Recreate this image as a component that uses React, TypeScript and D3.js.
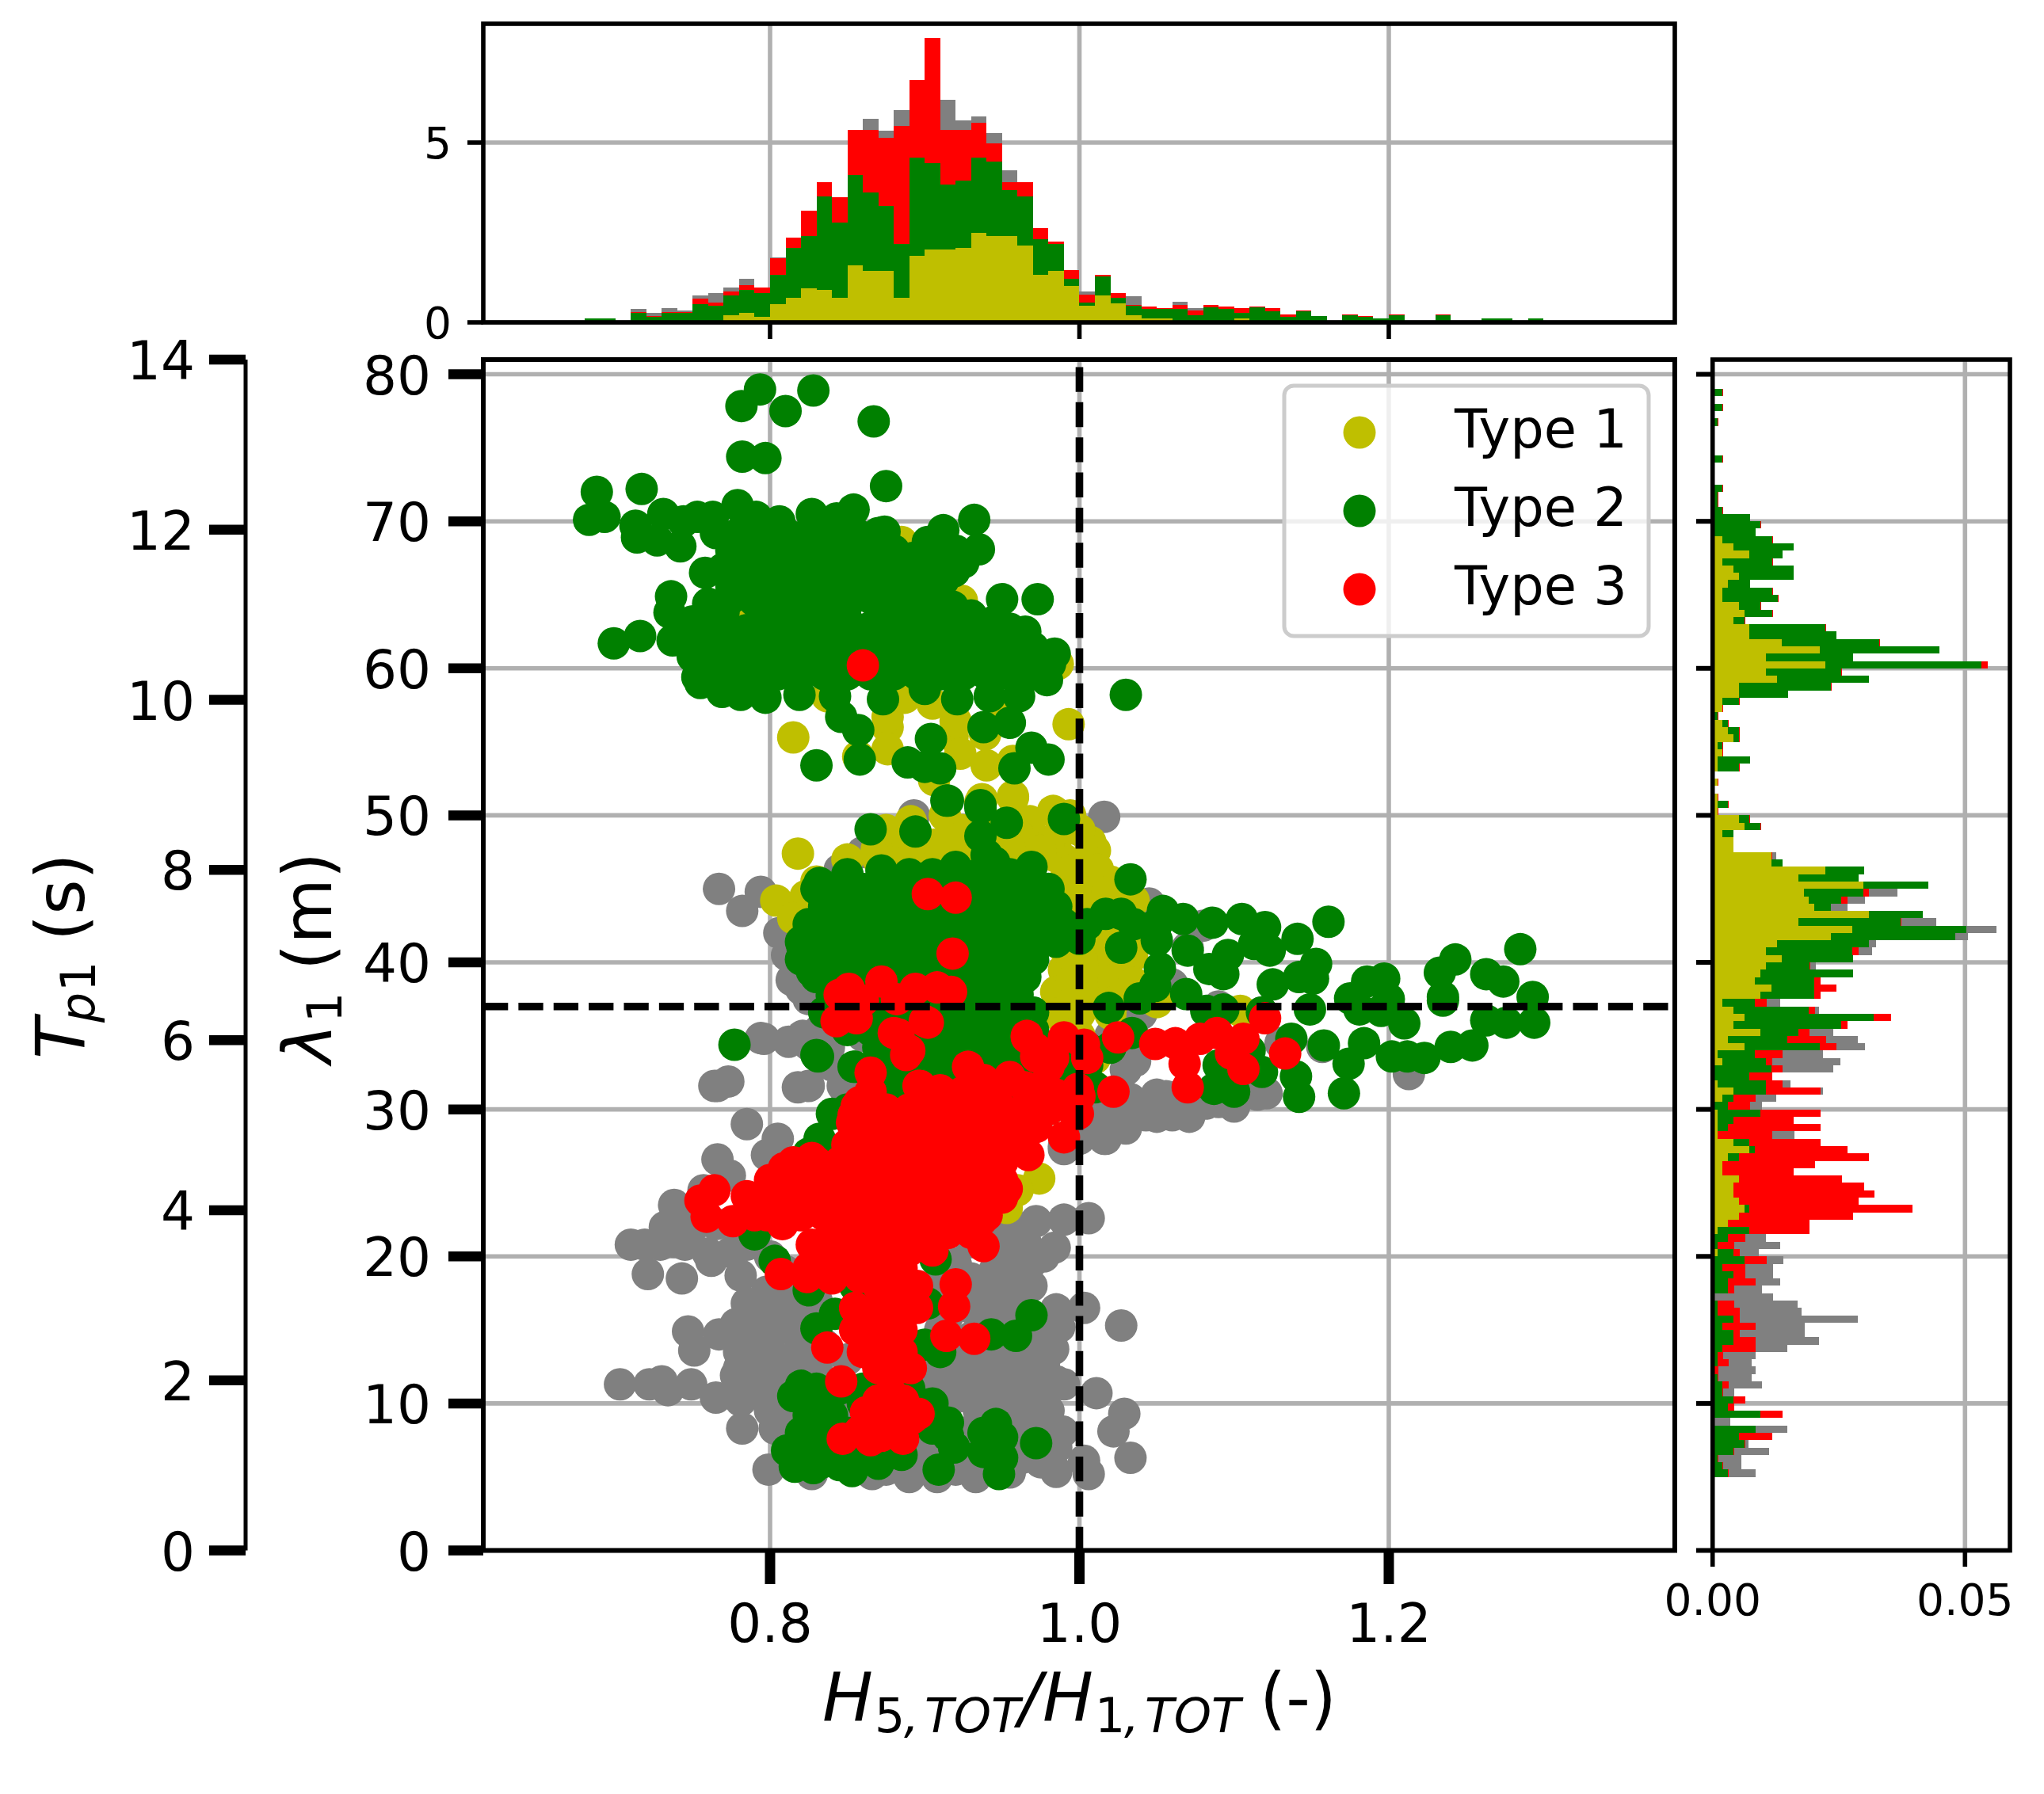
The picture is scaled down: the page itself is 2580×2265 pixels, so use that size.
import React from "react";
import * as d3 from "d3";

type P = [number, number];

// Top histogram (cumulative stack tops, bin width 0.01, starting at 0.68)
const topBinStarts: number[] = d3.range(62).map((i) => 0.68 + i * 0.01);
const topType1 = [
  0,0,0,0,0,0,0,0,0,.19,
  .26,.15,.51,.68,.94,.90,.68,1.58,1.43,1.43,
  .68,1.85,2.02,2.02,2.07,2.49,2.40,2.40,2.13,1.32,
  1.43,1.01,.46,.74,.52,.19,.10,.10,0,0,
  0,0,.10,0,0,0,0,0,0,0,
  0,0,0,0,0,0,0,0,0,0,
  0,0,
];
const topType2 = [
  .10,.10,0,.26,.15,.26,.26,.51,.46,.74,
  .90,.82,1.32,2.06,2.40,3.50,2.77,4.10,3.61,3.24,
  2.18,4.58,4.43,3.83,3.94,4.58,4.47,3.68,3.50,2.32,
  2.18,1.21,.56,1.27,.68,.46,.38,.38,.38,.19,
  .41,.37,.26,.41,.30,.15,.30,.17,0,.19,
  .15,.10,.19,0,0,.19,0,0,.10,.10,
  0,.10,
];
const topType3 = [
  .12,.12,0,.28,.17,.28,.28,.65,.54,.85,
  1.03,.96,1.78,2.35,3.10,3.90,3.48,5.35,5.35,5.13,
  5.46,6.74,7.91,5.35,5.35,5.55,4.98,3.90,3.90,2.62,
  2.24,1.45,.76,1.32,.81,.48,.43,.39,.48,.32,
  .48,.43,.39,.43,.39,.21,.32,.18,0,.21,
  .17,.12,.21,0,0,.21,0,0,.12,.12,
  0,.12,
];
const topType0 = [
  .12,.12,0,.37,.26,.39,.32,.74,.81,.96,
  1.21,.96,1.80,2.35,3.10,3.90,3.48,5.35,5.66,5.33,
  5.90,6.74,7.91,6.19,5.62,5.73,5.26,4.23,3.90,2.62,
  2.24,1.45,.85,1.32,.81,.72,.43,.39,.57,.39,
  .48,.43,.39,.43,.39,.21,.32,.18,0,.21,
  .17,.12,.21,0,0,.21,0,0,.12,.12,
  0,.12,
];

// Right histogram (cumulative stack tops in units of 1e-4, bin height 0.5 m, from 78.5 down to 5)
const rightBinStarts: number[] = d3.range(148).map((i) => 78.5 - i * 0.5);
const rightType1 = [
  0,0,0,0,0,0,0,0,0,0,
  0,0,0,0,0,0,0,0,0,0,
  19,41,73,19,41,52,30,19,19,52,
  63,41,73,73,137,212,106,223,106,128,
  52,52,19,19,0,19,30,41,10,20,
  10,10,0,10,0,10,10,10,52,63,
  19,41,41,117,117,223,170,299,181,190,
  201,309,170,277,234,128,106,137,106,95,
  84,117,95,19,41,63,41,95,30,63,
  10,19,0,0,10,41,19,0,10,10,
  10,10,41,73,30,19,19,52,41,41,
  52,63,52,30,10,0,0,10,0,0,
  0,0,0,0,0,0,0,0,0,0,
  0,0,0,0,0,0,0,0,0,0,
  0,0,0,0,0,0,0,0,
];
const rightType2 = [
  20,0,20,0,10,0,0,0,0,20,
  0,0,0,20,10,10,20,74,95,85,
  118,160,138,118,160,160,74,118,129,95,
  118,64,224,245,330,449,278,532,255,309,
  235,149,53,20,10,31,53,53,20,20,
  74,53,0,10,0,10,31,10,73,95,
  41,41,41,117,138,300,289,427,299,255,
  235,416,373,502,480,309,277,278,192,278,
  201,201,201,84,190,319,255,170,148,212,
  84,106,117,73,106,106,41,30,95,41,
  30,10,73,84,52,19,19,52,41,41,
  52,73,52,30,73,30,10,41,63,19,
  41,30,30,0,10,10,41,19,41,41,
  19,10,10,4,10,19,19,41,30,95,
  0,85,52,63,41,10,19,30,
];
const rightType3 = [
  21,0,21,0,11,0,0,0,0,21,
  0,0,0,21,12,12,21,75,96,86,
  119,161,139,119,161,161,75,119,130,96,
  119,65,225,246,331,450,279,545,256,310,
  236,150,54,21,11,32,54,54,21,21,
  75,54,0,11,0,11,32,11,74,96,
  42,42,42,118,139,301,290,428,309,267,
  235,417,374,503,481,310,289,279,193,279,
  214,245,214,107,203,354,267,192,225,245,
  139,118,139,118,139,214,85,74,214,160,
  214,118,214,267,309,203,160,256,300,321,
  289,396,278,192,192,65,43,54,107,65,
  65,85,43,0,43,54,54,85,54,85,
  85,21,32,12,12,32,21,65,43,139,
  0,85,118,65,43,12,21,32,
];
const rightType0 = [
  21,0,21,0,11,0,0,0,0,21,
  0,0,0,21,12,12,21,75,96,86,
  119,161,139,119,161,161,75,119,130,96,
  119,65,225,246,331,450,279,545,256,310,
  236,150,54,21,11,32,54,54,21,21,
  75,54,0,11,0,11,32,11,74,96,
  42,42,42,126,139,301,290,428,366,302,
  267,417,443,562,506,324,316,279,204,279,
  214,245,214,134,211,354,267,239,288,302,
  219,253,239,118,154,219,126,98,214,160,
  214,162,214,267,309,203,160,256,300,321,
  289,396,278,192,192,106,134,92,140,120,
  120,134,98,120,168,176,288,183,183,211,
  148,85,77,85,77,98,43,65,43,139,
  35,148,118,71,112,57,57,85,
];

// Scatter points: [H5/H1, wavelength]
const scatterType0: P[] = [
  [.794,34.85],[.773,31.9],[.764,31.6],[.785,29],[.805,28],[.798,26.9],[.766,26.6],[.774,25.5],[.757,24.5],[.738,23.5],
  [.732,22],[.738,21],[.71,20.8],[.719,20.8],[.729,20.8],[.745,20.8],[.76,20.2],[.775,20.3],[.785,20.8],[.721,18.8],
  [.743,18.5],[.781,18.7],[.762,19.7],[.75,22],[.765,22.2],[.78,22],[.972,22.4],[.99,22.5],[1.006,22.6],[.954,22.5],
  [.977,20],[.984,20.6],[.969,19.6],[.96,18.8],[.969,18],[1.003,16.5],[1.027,15.3],[.985,16.4],[.987,15.2],[.983,13.7],
  [.747,14.9],[.751,13.6],[.767,14.7],[.778,15.4],[.785,16.8],[.798,17.6],[.81,17.4],[.78,13.5],[.78,12.4],[.703,11.3],
  [.722,11.3],[.734,10.9],[.73,11.5],[.749,11.3],[.765,10.4],[.781,10.2],[.778,11.9],[.801,11.9],[.809,10.2],[.782,8.3],
  [.803,8.3],[.799,5.5],[.827,5.2],[.866,5.2],[.89,5],[.908,5],[.933,5],[.963,6.3],[.985,5.35],[1.003,6.1],
  [1.006,5.2],[1.033,6.3],[1.022,8.1],[1.029,9.3],[1.011,10.7],[.99,11.3],[.974,8.9],[.989,8.1],[.956,9.2],[.953,11.2],
  [.93,11.4],[.961,12],[.977,12.6],[.98,14],[.8,14.5],[.8,16],[.79,14],[.815,15],[.815,13],[.83,12.5],
  [.83,17],[.85,13],[.9,12],[.915,12],[.93,13],[.945,12.5],[.96,13.5],[.97,15],[.95,16],[.94,18],
  [.95,20],[.93,21],[.91,21],[.92,17],[.94,15],[.92,19.5],[.96,17],[.905,18],[.83,20],[.8,20],
  [.81,19],[.84,10.5],[.85,9],[.87,6],[.89,7],[.91,7],[.935,9.5],[.925,6],[.95,5.8],[.945,10],
  [.915,10],[.82,7],[.83,8],[.96,10.5],[.972,11],[.8,12.8],[.815,11],
  [.795,15],[.8,13.6],[.81,16.5],[.82,14],[.825,12],[.82,16],[.835,14],[.835,16],[.79,16.2],[.79,12.6],
  [.905,11],[.92,11],[.935,11.8],[.95,11.4],[.965,11.2],[.975,11.8],[.985,11.5],[.9,13],[.915,13.2],[.93,14.5],
  [.945,14],[.96,15],[.975,14],[.98,15.5],[.94,13],[.97,12.8],[.955,17.5],[.93,16.5],[.945,17],[.93,18.5],
  [.945,19],[.955,21],[.94,21],[.965,21],[.915,16],[.91,19.5],[.91,15],[.905,14],
  [.79,11],[.8,10.5],[.8,9.5],[.815,8.5],[.815,9.8],[.83,6],[.845,6],[.86,6.5],[.875,5.5],[.885,5.8],
  [.895,6],[.92,5.5],[.94,5.5],[.955,5.3],[.925,8],[.94,7.5],[.955,8],[.965,8],[.975,6],[.965,9.5],
  [.98,9.5],[.985,7],[.88,8],[.9,8.5],[.91,9.5],[.925,10.5],[.935,10.8],[.945,9],
  [1.016,28],[.99,27.5],[1.043,29.6],[1.07,29.8],[1.082,30.4],[1.033,30.7],[1.056,30.9],[1.121,31.1],[1.03,32.7],[1.036,33.3],
  [1.213,32.4],[1.017,28],[.99,27.3],[1.041,29.7],[1.071,29.5],[1.085,31.2],[1.157,34.25],[1.016,49.9],[.86,47.5],[.893,50],
  [.845,46.3],[.82,38.2],[.832,35.4],[.825,31.6],[.847,31.6],[.821,35],[.767,45],[.794,44.8],[.782,43.5],[.806,42],
  [.811,40.5],[.814,38.8],[.825,37.5],[.796,34.8],[.812,34.6],[.825,34.4],[.838,34.2],[.818,31.5],[.766,31.6],[.86,35],
  [.84,33],[1.02,30.5],[1.01,29],[1.05,31],[1.1,31],[1.04,36.5],[1.045,44],[1.07,41],[1.08,42.5],[1.02,35],
  [1.06,38.5],[1.09,37],[1.118,36.6],[1.1,32],[1.13,34.5],[1.0,30],
  [1.05,29.5],[1.06,29.6],[1.02,29.4],[1.03,28.7],[1.09,30.5],[1.1,30.2],[1.115,31],[1.0,28],[1.015,28.8],[1.075,30.5],
];

const scatterType1: P[] = [
  [.768,64.1],[.78,64.6],[.756,62.5],[.885,68.6],[.917,67.5],[.924,64.6],[.892,65.8],[.913,63.7],[.986,60.3],[.993,56.2],
  [.815,55.3],[.876,56],[.876,54.5],[.857,54],[.918,55.4],[.923,54.2],[.94,53.4],[.906,52.4],[.957,53.7],[.936,50.9],
  [.957,51.3],[.939,55.5],[.876,56.7],[.837,58.1],[.887,58],[.905,57.6],[.952,57.4],[.92,56.4],[.82,66],[.85,65],
  [.937,51.1],[.957,51.2],[.983,50.3],[.994,50],[.913,50],[.891,49.6],[.875,49],[.924,49],[.942,49.4],[.968,49.6],
  [1.007,48.2],[1.01,47.6],[.986,48.6],[.961,48.6],[.906,48],[.93,47.8],[.887,48],[.869,47.7],[.985,47.2],[.818,47.4],
  [.804,44.2],[.823,44.5],[.83,42],[.815,43],[.85,47],[.87,47],[.89,47],[.91,47],[.93,47],[.95,47],
  [.97,47],[.99,47],[1.005,47],[.83,45.5],[.99,45.5],[1.005,45.5],[1.02,45.5],[1.03,45],[.99,44],[1.01,44],
  [1.025,44],[1.035,44.2],[1.0,42.5],[1.02,42.5],[1.03,42],[.97,41],[.99,41],[1.01,41],[1.03,41],[.99,39.5],
  [1.01,39.5],[1.03,39.5],[.985,38],[1.0,38],[1.015,38],[1.03,38],[.985,36.5],[1,36.5],[1.02,36.5],[1.05,37.3],
  [1.104,36.7],[.974,25.3],[.953,23.3],[.96,24.5],[.95,33],[.93,33],[.93,31],[.96,36],[1,35],[1.01,33.5],
  [.88,32],[.91,30],
  [.995,46.3],[1.012,46.3],[1.002,44.8],[1.018,44.8],[.985,43],[1.0,43.2],[1.012,43.2],[1.025,43.2],[.995,40.3],[1.008,40.3],
  [1.022,40.3],[1.034,40.4],[.995,38.8],[1.008,38.8],[1.022,38.8],[1.035,38.6],[1.04,37.6],[.995,37.3],[1.008,37.3],[1.022,37.3],
  [1.0,41.7],[1.012,41.7],[1.025,41.7],[1.036,41.2],[.98,48],[1.0,49],[.955,47.8],[.915,48.4],[.945,48.2],[.975,47.6],
];

const scatterType2: P[] = [
  [.7935,78.97],[.828,78.9],[.7815,77.84],[.81,77.5],[.867,76.8],[.782,74.4],[.797,74.3],[.875,72.4],[.688,72],[.717,72.2],
  [.683,70.1],[.693,70.3],[.713,69.7],[.714,68.9],[.731,70.5],[.727,68.7],[.742,68.3],[.744,70],[.753,70.3],[.763,70.3],
  [.779,71.1],[.791,70.3],[.806,70],[.827,70.5],[.843,70.2],[.854,70.8],[.874,69.3],[.892,67.5],[.902,68.6],[.912,69.4],
  [.932,70.1],[.935,68.1],[.919,66.6],[.904,65.1],[.95,64.7],[.973,64.7],[.736,64.9],[.735,63.8],[.758,66.5],[.751,62.9],
  [.716,62.2],[.737,61.9],[.699,61.7],[.77,63.9],[.753,59.4],[.755,59],[.769,58.4],[.781,58.2],[.797,58],[.819,58.2],
  [.842,58.1],[.873,57.9],[.9,58.6],[.921,57.9],[.942,58.1],[.961,58.1],[.979,59.2],[.984,61],[.962,61.7],[.97,61.4],
  [.981,60.3],[.939,62.9],[.846,56.7],[.857,55.8],[.858,53.8],[.83,53.4],[.904,55.2],[.889,53.6],[.9,53.3],[.91,53.2],
  [.938,56],[.955,56.3],[.969,54.6],[.98,53.8],[.958,53.2],[.915,51],[.936,50.7],[1.03,58.2],
  [.905,67],[.92,68],[.925,67.2],[.912,66],[.905,63.8],[.918,64.2],[.93,63.6],[.945,63.2],[.955,62.7],[.965,62.5],[.895,66.4],[.91,67.6],
  [.765,69.2],[.78,69.2],[.795,69.2],[.81,69.2],[.825,69.2],[.84,69.2],[.855,69.2],[.87,69.2],
  [.775,68],[.79,68],[.805,68],[.82,68],[.835,68],[.85,68],[.865,68],[.88,68],
  [.77,66.8],[.785,66.8],[.80,66.8],[.815,66.8],[.83,66.8],[.845,66.8],[.86,66.8],[.875,66.8],[.89,66.8],
  [.775,65.6],[.79,65.6],[.805,65.6],[.82,65.6],[.835,65.6],[.85,65.6],[.865,65.6],[.88,65.6],[.895,65.2],
  [.78,67.4],[.795,67.4],[.81,67.4],[.825,67.4],[.84,67.4],[.855,67.4],[.87,67.4],[.885,67.4],
  [.775,66.2],[.79,66.2],[.805,66.2],[.82,66.2],[.835,66.2],[.85,66.2],[.865,66.2],[.88,66.2],
  [.76,64.4],[.775,64.8],[.79,64.6],[.805,64.4],[.82,64.8],[.835,64.4],[.85,64.4],[.865,64.8],[.88,64.4],[.895,64.4],
  [.75,63.2],[.765,62.8],[.785,62.6],[.795,63.2],[.81,63.2],[.825,63.6],[.835,63.2],[.85,63.2],[.865,62.8],[.875,63.4],[.89,63.2],[.905,63],[.92,62.6],[.935,62.8],
  [.755,62],[.77,62],[.785,62],[.80,62],[.815,62],[.83,62],[.845,62],[.86,62],[.875,62],[.89,62],[.905,62],[.92,62],[.935,62],[.95,62],
  [.75,60.8],[.765,60.8],[.78,60.8],[.795,60.8],[.81,60.8],[.825,60.8],[.84,60.8],[.855,60.8],[.87,60.8],[.885,60.8],[.90,60.8],[.915,60.8],[.93,60.8],[.945,60.8],[.96,60.8],[.975,60.8],
  [.76,59.6],[.775,59.6],[.79,59.6],[.805,59.6],[.82,59.6],[.835,59.6],[.85,59.6],[.865,59.6],[.88,59.6],[.895,59.6],[.91,59.6],[.925,59.6],[.94,59.6],[.955,59.6],[.97,59.6],
  // lower cluster edge
  [1.161,42.76],[1.141,41.6],[1.12,42.4],[1.105,42.95],[1.086,42.7],[1.067,42.95],[1.054,43.5],[1.033,45.65],[1.027,43.3],[1.017,43.3],
  [.99,49.75],[.914,51],[.936,50.5],[.953,49.5],[.894,48.9],[.865,49.05],[.872,46.25],[.832,45.4],[.853,45.2],[.92,46.5],[.969,46.5],
  [.936,48.6],[.94,47.3],[.945,46.8],
  [1.285,40.9],[1.243,40.2],[1.263,39.2],[1.274,38.7],[1.233,39.3],[1.235,37.65],[1.235,37.4],[1.293,37.65],[1.294,35.9],[1.276,35.9],
  [1.263,36.05],[1.254,34.35],[1.24,34.25],[1.223,33.5],[1.212,33.6],[1.202,33.6],[1.197,38.9],[1.186,38.7],[1.175,37.55],[1.181,36.8],
  [1.2,37.5],[1.195,36.7],[1.21,35.85],[1.184,34.5],[1.174,33.1],[1.171,31.1],[1.142,30.85],[1.14,32.25],[1.158,34.35],[1.137,34.8],
  [1.149,36.8],[1.153,39.9],[1.151,38.9],[1.142,39],[1.125,38.5],[1.123,40.8],[1.113,41.25],[1.093,39.2],[1.096,40.5],[1.084,39.55],
  [1.07,40.8],[1.069,37.85],[1.052,39.6],[1.049,38.4],[1.039,37.55],[1.027,41],[1.05,41.5],[1.093,36.8],[1.082,36.7],[1.118,36.6],
  [1.10,31.2],[1.087,31.4],[1.118,32.55],[1.019,36.9],[1.034,35.2],[1.09,33],[1.11,34],
  [.85,46],[.89,46],[.905,46],[.935,46],[.955,46],
  [.83,45],[.845,45],[.86,45],[.875,45],[.89,45],[.905,45],[.92,45],[.935,45],[.95,45],[.965,45],[.98,45],
  [.835,43.8],[.85,43.8],[.865,43.8],[.88,43.8],[.895,43.8],[.91,43.8],[.925,43.8],[.94,43.8],[.955,43.8],[.97,43.8],[.985,43.8],
  [.825,42.6],[.84,42.6],[.855,42.6],[.87,42.6],[.885,42.6],[.90,42.6],[.915,42.6],[.93,42.6],[.945,42.6],[.96,42.6],[.975,42.6],[.99,42.6],[1.005,42.6],[1.035,42.6],[1.05,42.6],
  [.82,41.4],[.835,41.4],[.85,41.4],[.865,41.4],[.88,41.4],[.895,41.4],[.91,41.4],[.925,41.4],[.94,41.4],[.955,41.4],[.97,41.4],[.985,41.4],[1.0,41.6],
  [.82,40.2],[.835,40.2],[.85,40.2],[.865,40.2],[.88,40.2],[.895,40.2],[.91,40.2],[.925,40.2],[.94,40.2],[.955,40.2],[.97,40.2],
  [.83,39],[.845,39],[.86,39],[.875,39],[.89,39],[.905,39],[.92,39],[.935,39],[.95,39],[.965,39],
  [.84,37.8],[.855,37.8],[.87,37.8],[.885,37.8],[.90,37.8],[.915,37.8],[.93,37.8],[.945,37.8],[.96,37.8],
  [.835,36.6],[.85,36.6],[.865,36.6],[.88,36.6],[.895,36.6],[.91,36.6],[.925,36.6],[.94,36.6],[.955,36.6],[.97,36.6],
  [.85,35.4],[.865,35.4],[.88,35.4],[.895,35.4],[.91,35.4],[.925,35.4],[.94,35.4],[.955,35.4],[.97,35.4],
  [.87,34.2],[.885,34.2],[.90,34.2],[.915,34.2],[.93,34.2],[.945,34.2],[.96,34.2],[.975,34.2],[.99,34.2],[1.005,34.2],[1.02,34.2],
  [.87,33],[.885,33],[.905,33],[.92,33],[.94,33],[.955,32.6],[.975,33],[.99,33],[1.005,33],
  [.875,31.5],[.89,31.5],[.905,31.5],[.92,31.5],[.94,31.5],[.955,31.5],[.975,31.5],[.99,31.5],[1.01,31.5],
  [.85,30],[.87,30],[.89,30],[.92,30],[.95,30],[.98,30],
  [.831,33.6],[.854,32.9],[.827,39.4],[.821,41],[.84,37.7],[.84,29.7],[.832,28],
  [.777,34.4],[.83,33.7],[.855,32.9],[.79,21.5],[.803,19.7],[.825,17.7],[.907,19.8],[.842,16.1],[.83,15.1],[.902,16.8],
  [.943,14.7],[.959,14.6],[.969,16],[.815,25],[.825,27],[.82,11.2],[.825,9.2],[.811,6.8],[.816,5.7],[.834,6],
  [.853,5.4],[.87,7],[.83,7.7],[.84,9.2],[.86,10],[.899,9.9],[.915,8.7],[.919,7],[.909,5.5],[.946,8.6],
  [.95,7.7],[.938,6.7],[.948,5.2],[.972,7.3],[.82,8],[.835,10.5],[.85,8],[.825,6.5],[.855,6.5],[.905,8.3],
  [.87,5.9],[.9,14],[.91,13.5],[.855,18],[.88,19],
  [.815,10.5],[.83,11],[.845,11],[.86,11],[.875,11.3],[.89,11],[.84,7],[.845,5.8],[.86,8],[.86,6.8],
  [.875,8.5],[.885,6.5],[.895,8.8],[.905,10],[.915,7.8],[.938,8],[.942,7],[.95,6.3],[.828,5.6],
];

const scatterType3: P[] = [
  [.764,24.5],[.755,23.8],[.759,22.7],[.776,22.4],[.785,24.1],[.798,22.8],[.808,22.2],[.809,26],[.827,26.7],[.807,18.8],
  [.824,18.6],[.84,18.5],[.858,18.6],[.827,20.8],[.837,13.8],[.846,11.5],[.847,7.6],[.865,7.5],[.886,7.6],[.87,10.2],
  [.896,9.3],[.886,10.2],[.876,9],[.92,18.1],[.919,16.6],[.914,14.6],[.932,14.4],[.938,20.7],[.953,24.6],[.937,22.5],
  [.967,26.9],[.99,28.1],[.999,29.7],[.999,31.4],[1.022,31.2],[1.025,34.9],[1.003,34.4],[.99,34.9],[.966,34.9],[.972,33.6],
  [.954,32],[.928,32.9],[.888,33.7],[.883,35.1],[.902,35.9],[.865,32.5],[.856,30.2],[.853,29.1],[.852,27.5],[.896,31.6],
  [.851,38.2],[.843,36],[.856,36.2],[.872,38.7],[.894,38.2],[.908,38.3],[.917,38],[.86,37.4],[.882,37.5],[.9,36],
  [.88,35.2],[.845,37.8],[.902,44.65],[.92,44.4],[.918,40.6],[.966,35],[.972,34.1],[1.049,34.45],[1.062,34.5],[1.078,34.8],
  [1.089,35.2],[1.106,34.8],[1.12,36.2],[1.133,33.8],[1.106,32.75],[1.098,33.8],[1.068,33.1],[1.07,31.5],[.955,32.2],[.86,60.2],
  [.865,31.2],[.897,31.6],[.946,31],[.98,32.9],[.983,33.5],[1.005,33.5],[1,30.9],[.997,29.7],[.966,30.2],[.972,28.8],
  [.854,29.6],[.858,30.5],[.91,31.3],[.925,31.2],[.938,32],[.965,31.5],[.975,31.5],[.985,31],[.89,34],[.915,31],
  [.875,30],[.89,30],[.905,30],[.92,30],[.935,30],[.95,30],[.965,30],[.98,30],
  [.865,28.8],[.88,28.8],[.895,28.8],[.91,28.8],[.925,28.8],[.94,28.8],[.955,28.8],[.97,28.8],
  [.85,27.6],[.865,27.6],[.88,27.6],[.895,27.6],[.91,27.6],[.925,27.6],[.94,27.6],[.955,27.6],
  [.815,26.4],[.83,26.4],[.845,26.4],[.86,26.4],[.875,26.4],[.89,26.4],[.905,26.4],[.92,26.4],[.935,26.4],[.95,26.4],
  [.80,25.2],[.815,25.2],[.83,25.2],[.845,25.2],[.86,25.2],[.875,25.2],[.89,25.2],[.905,25.2],[.92,25.2],[.935,25.2],[.95,25.2],
  [.80,24],[.815,24],[.83,24],[.845,24],[.86,24],[.875,24],[.89,24],[.905,24],[.92,24],[.935,24],[.95,24],
  [.79,22.8],[.805,22.8],[.82,22.8],[.835,22.8],[.85,22.8],[.865,22.8],[.88,22.8],[.895,22.8],[.91,22.8],[.925,22.8],[.94,22.8],
  [.84,21.6],[.855,21.6],[.87,21.6],[.885,21.6],[.90,21.6],[.915,21.6],[.93,21.6],
  [.83,20.4],[.845,20.4],[.86,20.4],[.875,20.4],[.89,20.4],[.905,20.4],
  [.825,19.2],[.84,19.2],[.855,19.2],[.87,19.2],[.885,19.2],
  [.87,18],[.885,18],[.895,18],[.855,16.5],[.87,16.5],[.885,16.5],[.895,16.5],
  [.855,15],[.87,15],[.885,15],[.86,13.5],[.875,13.5],[.885,13.5],[.87,12.4],[.883,12.4],[.891,12.4],
  [.862,9.4],[.878,10.7],[.868,8.4],[.892,9],[.858,8.1],[.872,7.8],
];

const legendLabels = ["Type 1", "Type 2", "Type 3"];
const legendColors = ["#bfbf00", "#008000", "#ff0000"];
const gray = "#808080";

const mainXTicks = [0.8, 1.0, 1.2];
const mainYTicks = d3.range(0, 81, 10);
const periodTicks = d3.range(0, 15, 2);
const topYTicks = [0, 5];
const rightXTicks = [0, 0.05];

const xMain = d3.scaleLinear().domain([0.6146, 1.3849]).range([610, 2114]);
const yMain = d3.scaleLinear().domain([0, 81]).range([1957.5, 454]);
const yPeriod = d3.scaleLinear().domain([0, 14]).range([1957.5, 454]);
const yTop = d3.scaleLinear().domain([0, 8.304]).range([407, 30]);
const xRight = d3.scaleLinear().domain([0, 0.0589]).range([2161.7, 2537]);

const FONT = "'DejaVu Sans', sans-serif";
const GRID = "#b0b0b0";
const GW = 5.6;
const TICKFONT = 67.6;

const Sub = ({ x, y, children }: any) => (
  <text x={x} y={y} fontSize={60} fontStyle="italic">{children}</text>
);

export default function App() {
  const topLayers: [number[], string][] = [[topType0, gray], [topType3, "#ff0000"], [topType2, "#008000"], [topType1, "#bfbf00"]];
  const rightLayers: [number[], string][] = [[rightType0, gray], [rightType3, "#ff0000"], [rightType2, "#008000"], [rightType1, "#bfbf00"]];
  const scatterLayers: [P[], string][] = [[scatterType0, gray], [scatterType1, "#bfbf00"], [scatterType2, "#008000"], [scatterType3, "#ff0000"]];
  return (
    <svg width={2580} height={2265} viewBox="0 0 2580 2265" style={{ position: "absolute", left: 0, top: 0, background: "#fff" }} fontFamily={FONT} fill="#000">
      {/* top histogram */}
      <g>
        {mainXTicks.map((t) => <line key={t} x1={xMain(t)} x2={xMain(t)} y1={30} y2={407} stroke={GRID} strokeWidth={GW} />)}
        {topYTicks.map((t) => <line key={t} x1={610} x2={2114} y1={yTop(t)} y2={yTop(t)} stroke={GRID} strokeWidth={GW} />)}
        {topLayers.map(([vals, c], li) => (
          <g key={li} shapeRendering="crispEdges">
            {vals.map((v, i) => v > 0 ? <rect key={i} x={xMain(topBinStarts[i])} width={xMain(topBinStarts[i] + 0.01) - xMain(topBinStarts[i])} y={yTop(v)} height={407 - yTop(v)} fill={c} /> : null)}
          </g>
        ))}
        <rect x={610} y={30} width={1504} height={377} fill="none" stroke="#000" strokeWidth={5.6} />
        {mainXTicks.map((t) => <line key={t} x1={xMain(t)} x2={xMain(t)} y1={407} y2={428} stroke="#000" strokeWidth={5.6} />)}
        {topYTicks.map((t) => (
          <g key={t}>
            <line x1={590} x2={610} y1={yTop(t)} y2={yTop(t)} stroke="#000" strokeWidth={5.6} />
            <text x={570} y={yTop(t) + 20} fontSize={55} textAnchor="end">{t}</text>
          </g>
        ))}
      </g>

      {/* right histogram */}
      <g>
        {rightXTicks.slice(1).map((t) => <line key={t} x1={xRight(t)} x2={xRight(t)} y1={454} y2={1957.5} stroke={GRID} strokeWidth={GW} />)}
        {mainYTicks.map((t) => <line key={t} x1={2162} x2={2537} y1={yMain(t)} y2={yMain(t)} stroke={GRID} strokeWidth={GW} />)}
        {rightLayers.map(([vals, c], li) => (
          <g key={li} shapeRendering="crispEdges">
            {vals.map((v, i) => v > 0 ? <rect key={i} x={xRight(0)} width={xRight(v / 1e4) - xRight(0)} y={yMain(rightBinStarts[i] + 0.5)} height={yMain(rightBinStarts[i]) - yMain(rightBinStarts[i] + 0.5)} fill={c} /> : null)}
          </g>
        ))}
        <rect x={2161.7} y={454} width={375.3} height={1503.5} fill="none" stroke="#000" strokeWidth={5.6} />
        {mainYTicks.map((t) => <line key={t} x1={2141} x2={2162} y1={yMain(t)} y2={yMain(t)} stroke="#000" strokeWidth={6} />)}
        {rightXTicks.map((t) => (
          <g key={t}>
            <line x1={xRight(t)} x2={xRight(t)} y1={1957.5} y2={1978} stroke="#000" strokeWidth={5.6} />
            <text x={xRight(t)} y={2039} fontSize={55} textAnchor="middle">{t.toFixed(2)}</text>
          </g>
        ))}
      </g>

      {/* main scatter */}
      <g>
        {mainXTicks.map((t) => <line key={t} x1={xMain(t)} x2={xMain(t)} y1={454} y2={1957.5} stroke={GRID} strokeWidth={GW} />)}
        {mainYTicks.map((t) => <line key={t} x1={610} x2={2114} y1={yMain(t)} y2={yMain(t)} stroke={GRID} strokeWidth={GW} />)}
        {scatterLayers.map(([pts, c], li) => (
          <g key={li} fill={c}>
            {pts.map((p, i) => <circle key={i} cx={xMain(p[0])} cy={yMain(p[1])} r={20.5} />)}
          </g>
        ))}
        <line x1={xMain(1)} x2={xMain(1)} y1={1959} y2={454} stroke="#000" strokeWidth={9.6} strokeDasharray="31.3 13.07" />
        <line x1={610} x2={2114} y1={yMain(37)} y2={yMain(37)} stroke="#000" strokeWidth={9.6} strokeDasharray="31.3 13.07" />
        {/* legend */}
        <rect x={1621} y={487} width={460} height={316} rx={12} fill="#fff" fillOpacity={0.8} stroke="#cccccc" strokeWidth={5} />
        {legendLabels.map((l, i) => (
          <g key={l}>
            <circle cx={1716} cy={546 + i * 99} r={20.5} fill={legendColors[i]} />
            <text x={1836} y={565 + i * 99} fontSize={67}>{l}</text>
          </g>
        ))}
        <rect x={610} y={454} width={1504} height={1503.5} fill="none" stroke="#000" strokeWidth={6} />
        {mainXTicks.map((t) => (
          <g key={t}>
            <line x1={xMain(t)} x2={xMain(t)} y1={1957.5} y2={2000} stroke="#000" strokeWidth={13} />
            <text x={xMain(t)} y={2073} fontSize={TICKFONT} textAnchor="middle">{t.toFixed(1)}</text>
          </g>
        ))}
        {mainYTicks.map((t) => (
          <g key={t}>
            <line x1={566} x2={610} y1={yMain(t)} y2={yMain(t)} stroke="#000" strokeWidth={12.5} />
            <text x={544} y={yMain(t) + 25} fontSize={TICKFONT} textAnchor="end">{t}</text>
          </g>
        ))}
      </g>

      {/* secondary period axis */}
      <g>
        <line x1={310} x2={310} y1={yPeriod(14)} y2={yPeriod(0)} stroke="#000" strokeWidth={5} />
        {periodTicks.map((t) => (
          <g key={t}>
            <line x1={264} x2={310} y1={yPeriod(t)} y2={yPeriod(t)} stroke="#000" strokeWidth={12.5} />
            <text x={246} y={yPeriod(t) + 25} fontSize={TICKFONT} textAnchor="end">{t}</text>
          </g>
        ))}
      </g>

      {/* axis labels */}
      <g fontSize={85}>
        <text x={1038} y={2173} fontStyle="italic">H</text>
        <text x={1104} y={2187} fontSize={60}>5</text>
        <text x={1141} y={2187} fontSize={60} fontStyle="italic">,</text>
        <Sub x={1167} y={2187}>TOT</Sub>
        <text x={1286} y={2173} fontStyle="italic">/</text>
        <text x={1316} y={2173} fontStyle="italic">H</text>
        <text x={1382} y={2187} fontSize={60}>1</text>
        <text x={1419} y={2187} fontSize={60} fontStyle="italic">,</text>
        <Sub x={1445} y={2187}>TOT</Sub>
        <text x={1590} y={2173}>(-)</text>

        <g transform="translate(418,1343) rotate(-90)">
          <text x={0} y={0} fontStyle="italic">λ</text>
          <text x={52} y={13} fontSize={60}>1</text>
          <text x={118} y={0}>(m)</text>
        </g>
        <g transform="translate(106,1337) rotate(-90)">
          <text x={0} y={0} fontStyle="italic">T</text>
          <text x={46} y={14} fontSize={60} fontStyle="italic">p</text>
          <text x={85} y={14} fontSize={60}>1</text>
          <text x={149} y={0}>(s)</text>
        </g>
      </g>
    </svg>
  );
}
